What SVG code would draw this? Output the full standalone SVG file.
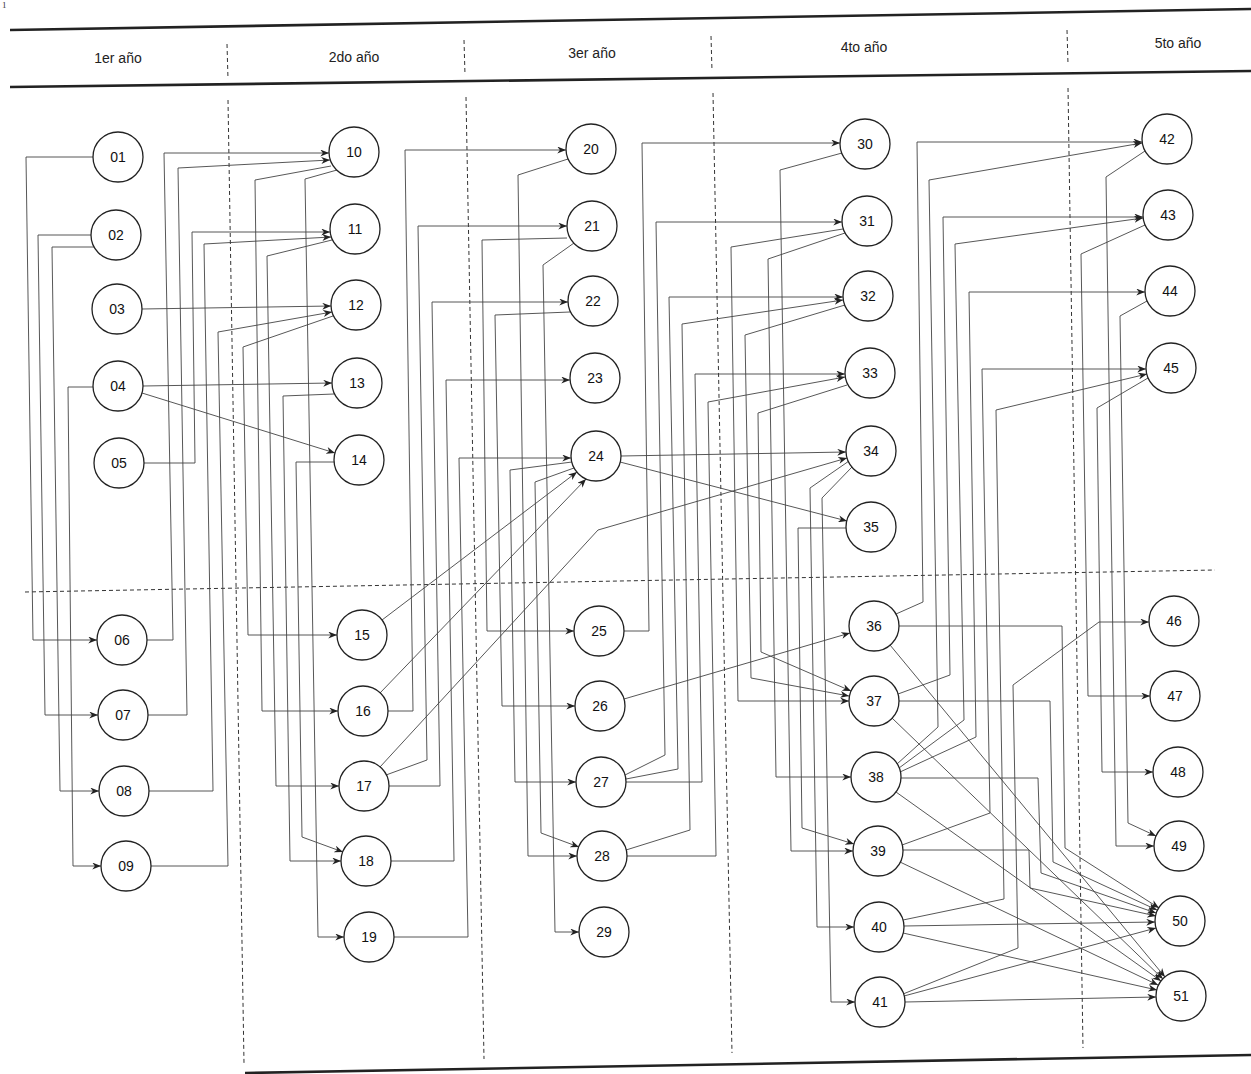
<svg xmlns="http://www.w3.org/2000/svg" width="1251" height="1074" viewBox="0 0 1251 1074">
<style>
.bg{fill:#fff}
.hl{stroke:#222;stroke-width:2.6;fill:none}
.dv{stroke:#333;stroke-width:1;stroke-dasharray:4 3;fill:none}
.hd{font-family:"Liberation Sans",Arial,sans-serif;font-size:14px;fill:#222;text-anchor:middle}
.c{stroke:#444;stroke-width:0.9;fill:none;marker-end:url(#a)}
.n circle{fill:#fff;stroke:#222;stroke-width:1.3}
.n text{font-family:"Liberation Sans",Arial,sans-serif;font-size:14px;fill:#111;text-anchor:middle;dominant-baseline:central}
</style>
<defs>
<marker id="a" viewBox="0 0 10 8" refX="10" refY="4" markerWidth="9" markerHeight="7" orient="auto" markerUnits="userSpaceOnUse"><path d="M0,0 L10,4 L0,8 L3,4 z" fill="#222"/></marker>
</defs>
<rect class="bg" x="0" y="0" width="1251" height="1074"/>
<text x="2" y="8" font-family="Liberation Serif,serif" font-size="9" fill="#333">1</text>
<g id="frame">
<line class="hl" x1="10" y1="30" x2="1251" y2="9"/>
<line class="hl" x1="10" y1="87" x2="1251" y2="71"/>
<line class="hl" x1="245" y1="1073" x2="1251" y2="1055" stroke-width="3"/>
<line class="dv" x1="227" y1="44" x2="228" y2="79"/>
<line class="dv" x1="228" y1="100" x2="244" y2="1063"/>
<line class="dv" x1="464" y1="40" x2="465" y2="75"/>
<line class="dv" x1="466" y1="97" x2="484" y2="1059"/>
<line class="dv" x1="711" y1="36" x2="712" y2="71"/>
<line class="dv" x1="713" y1="93" x2="732" y2="1053"/>
<line class="dv" x1="1067" y1="30" x2="1068" y2="64"/>
<line class="dv" x1="1068" y1="88" x2="1083" y2="1048"/>
<line class="dv" x1="25" y1="592" x2="1215" y2="570" stroke-dasharray="5 4"/>
<text class="hd" x="118" y="63">1er año</text>
<text class="hd" x="354" y="62">2do año</text>
<text class="hd" x="592" y="58">3er año</text>
<text class="hd" x="864" y="52">4to año</text>
<text class="hd" x="1178" y="48">5to año</text>
</g>
<g id="connectors">
<path class="c" d="M93,157 H26 L33,640 H97"/>
<path class="c" d="M91,235 H38 L45,715 H98"/>
<path class="c" d="M94,247 H52 L60,791 H99"/>
<path class="c" d="M93,387 H68 L73,866 H101"/>
<path class="c" d="M142,309 L331,306"/>
<path class="c" d="M143,386 L332,383"/>
<path class="c" d="M142,393 L335,453"/>
<path class="c" d="M144,463 H195 L192,232 H330"/>
<path class="c" d="M147,640 H173 L164,153 H329"/>
<path class="c" d="M148,715 H187 L178,168 L330,160"/>
<path class="c" d="M149,791 H213 L204,244 L331,237"/>
<path class="c" d="M151,866 H228 L218,332 L332,312"/>
<path class="c" d="M333,316 L243,347 L248,635 H337"/>
<path class="c" d="M331,166 L255,180 L262,711 H338"/>
<path class="c" d="M332,240 L267,256 L276,786 H339"/>
<path class="c" d="M334,394 L283,396 L290,861 H341"/>
<path class="c" d="M335,462 L296,462 L302,837 L343,852"/>
<path class="c" d="M337,170 L305,179 L318,937 H344"/>
<path class="c" d="M388,711 H413 L405,150 H566"/>
<path class="c" d="M386,775 L427,760 L418,226 H567"/>
<path class="c" d="M389,786 H440 L432,302 H568"/>
<path class="c" d="M391,861 H454 L446,380 H570"/>
<path class="c" d="M394,937 H468 L459,458 H571"/>
<path class="c" d="M382,620 L577,472"/>
<path class="c" d="M380,693 L586,479"/>
<path class="c" d="M380,767 L598,530 L847,458"/>
<path class="c" d="M567,238 L482,240 L487,631 H574"/>
<path class="c" d="M570,312 L495,315 L502,706 H575"/>
<path class="c" d="M572,462 L510,470 L515,782 H576"/>
<path class="c" d="M568,159 L518,175 L528,856 H577"/>
<path class="c" d="M574,468 L535,482 L541,833 L579,847"/>
<path class="c" d="M574,243 L543,265 L555,932 H579"/>
<path class="c" d="M624,631 H649 L642,143 H840"/>
<path class="c" d="M625,775 L665,755 L656,222 H842"/>
<path class="c" d="M626,779 L678,769 L669,297 H843"/>
<path class="c" d="M626,850 L690,830 L682,324 L843,300"/>
<path class="c" d="M626,782 H702 L695,374 H845"/>
<path class="c" d="M627,856 H716 L708,402 L845,377"/>
<path class="c" d="M621,456 L846,452"/>
<path class="c" d="M620,462 L847,521"/>
<path class="c" d="M624,699 L850,633"/>
<path class="c" d="M843,229 L731,247 L738,701 H849"/>
<path class="c" d="M845,305 L745,335 L751,678 L849,696"/>
<path class="c" d="M847,385 L758,413 L761,652 L851,691"/>
<path class="c" d="M845,233 L768,259 L776,777 H851"/>
<path class="c" d="M842,153 L780,170 L791,851 H853"/>
<path class="c" d="M846,528 H798 L802,828 L854,844"/>
<path class="c" d="M849,461 L810,488 L817,927 H854"/>
<path class="c" d="M852,467 L822,498 L831,1002 H855"/>
<path class="c" d="M896,614 L923,602 L917,142 H1142"/>
<path class="c" d="M897,764 L938,727 L929,180 L1142,143"/>
<path class="c" d="M898,694 L950,675 L943,217 H1143"/>
<path class="c" d="M899,768 L964,720 L955,244 L1143,218"/>
<path class="c" d="M900,772 L976,737 L969,292 H1145"/>
<path class="c" d="M902,845 L990,813 L982,369 H1146"/>
<path class="c" d="M903,920 L1004,899 L996,410 L1147,374"/>
<path class="c" d="M903,994 L1018,948 L1013,685 L1099,622 H1149"/>
<path class="c" d="M1145,225 L1081,254 L1088,696 H1150"/>
<path class="c" d="M1148,378 L1097,408 L1102,772 H1153"/>
<path class="c" d="M1145,151 L1106,177 L1116,846 H1154"/>
<path class="c" d="M1147,301 L1120,316 L1128,823 L1156,836"/>
<path class="c" d="M899,626 H1062 L1065,848 L1159,908"/>
<path class="c" d="M890,645 L1165,977"/>
<path class="c" d="M899,701 H1050 L1053,862 L1157,910"/>
<path class="c" d="M892,718 L1163,979"/>
<path class="c" d="M901,778 H1038 L1041,873 L1156,913"/>
<path class="c" d="M896,792 L1161,981"/>
<path class="c" d="M903,850 H1029 L1030,888 L1156,916"/>
<path class="c" d="M900,862 L1158,985"/>
<path class="c" d="M904,926 L1155,922"/>
<path class="c" d="M903,933 L1157,990"/>
<path class="c" d="M904,996 L1156,928"/>
<path class="c" d="M905,1002 L1156,997"/>
</g>
<g id="n01" class="n"><circle cx="118" cy="157" r="25"/><text x="118" y="157">01</text></g>
<g id="n02" class="n"><circle cx="116" cy="235" r="25"/><text x="116" y="235">02</text></g>
<g id="n03" class="n"><circle cx="117" cy="309" r="25"/><text x="117" y="309">03</text></g>
<g id="n04" class="n"><circle cx="118" cy="386" r="25"/><text x="118" y="386">04</text></g>
<g id="n05" class="n"><circle cx="119" cy="463" r="25"/><text x="119" y="463">05</text></g>
<g id="n06" class="n"><circle cx="122" cy="640" r="25"/><text x="122" y="640">06</text></g>
<g id="n07" class="n"><circle cx="123" cy="715" r="25"/><text x="123" y="715">07</text></g>
<g id="n08" class="n"><circle cx="124" cy="791" r="25"/><text x="124" y="791">08</text></g>
<g id="n09" class="n"><circle cx="126" cy="866" r="25"/><text x="126" y="866">09</text></g>
<g id="n10" class="n"><circle cx="354" cy="152" r="25"/><text x="354" y="152">10</text></g>
<g id="n11" class="n"><circle cx="355" cy="229" r="25"/><text x="355" y="229">11</text></g>
<g id="n12" class="n"><circle cx="356" cy="305" r="25"/><text x="356" y="305">12</text></g>
<g id="n13" class="n"><circle cx="357" cy="383" r="25"/><text x="357" y="383">13</text></g>
<g id="n14" class="n"><circle cx="359" cy="460" r="25"/><text x="359" y="460">14</text></g>
<g id="n15" class="n"><circle cx="362" cy="635" r="25"/><text x="362" y="635">15</text></g>
<g id="n16" class="n"><circle cx="363" cy="711" r="25"/><text x="363" y="711">16</text></g>
<g id="n17" class="n"><circle cx="364" cy="786" r="25"/><text x="364" y="786">17</text></g>
<g id="n18" class="n"><circle cx="366" cy="861" r="25"/><text x="366" y="861">18</text></g>
<g id="n19" class="n"><circle cx="369" cy="937" r="25"/><text x="369" y="937">19</text></g>
<g id="n20" class="n"><circle cx="591" cy="149" r="25"/><text x="591" y="149">20</text></g>
<g id="n21" class="n"><circle cx="592" cy="226" r="25"/><text x="592" y="226">21</text></g>
<g id="n22" class="n"><circle cx="593" cy="301" r="25"/><text x="593" y="301">22</text></g>
<g id="n23" class="n"><circle cx="595" cy="378" r="25"/><text x="595" y="378">23</text></g>
<g id="n24" class="n"><circle cx="596" cy="456" r="25"/><text x="596" y="456">24</text></g>
<g id="n25" class="n"><circle cx="599" cy="631" r="25"/><text x="599" y="631">25</text></g>
<g id="n26" class="n"><circle cx="600" cy="706" r="25"/><text x="600" y="706">26</text></g>
<g id="n27" class="n"><circle cx="601" cy="782" r="25"/><text x="601" y="782">27</text></g>
<g id="n28" class="n"><circle cx="602" cy="856" r="25"/><text x="602" y="856">28</text></g>
<g id="n29" class="n"><circle cx="604" cy="932" r="25"/><text x="604" y="932">29</text></g>
<g id="n30" class="n"><circle cx="865" cy="144" r="25"/><text x="865" y="144">30</text></g>
<g id="n31" class="n"><circle cx="867" cy="221" r="25"/><text x="867" y="221">31</text></g>
<g id="n32" class="n"><circle cx="868" cy="296" r="25"/><text x="868" y="296">32</text></g>
<g id="n33" class="n"><circle cx="870" cy="373" r="25"/><text x="870" y="373">33</text></g>
<g id="n34" class="n"><circle cx="871" cy="451" r="25"/><text x="871" y="451">34</text></g>
<g id="n35" class="n"><circle cx="871" cy="527" r="25"/><text x="871" y="527">35</text></g>
<g id="n36" class="n"><circle cx="874" cy="626" r="25"/><text x="874" y="626">36</text></g>
<g id="n37" class="n"><circle cx="874" cy="701" r="25"/><text x="874" y="701">37</text></g>
<g id="n38" class="n"><circle cx="876" cy="777" r="25"/><text x="876" y="777">38</text></g>
<g id="n39" class="n"><circle cx="878" cy="851" r="25"/><text x="878" y="851">39</text></g>
<g id="n40" class="n"><circle cx="879" cy="927" r="25"/><text x="879" y="927">40</text></g>
<g id="n41" class="n"><circle cx="880" cy="1002" r="25"/><text x="880" y="1002">41</text></g>
<g id="n42" class="n"><circle cx="1167" cy="139" r="25"/><text x="1167" y="139">42</text></g>
<g id="n43" class="n"><circle cx="1168" cy="215" r="25"/><text x="1168" y="215">43</text></g>
<g id="n44" class="n"><circle cx="1170" cy="291" r="25"/><text x="1170" y="291">44</text></g>
<g id="n45" class="n"><circle cx="1171" cy="368" r="25"/><text x="1171" y="368">45</text></g>
<g id="n46" class="n"><circle cx="1174" cy="621" r="25"/><text x="1174" y="621">46</text></g>
<g id="n47" class="n"><circle cx="1175" cy="696" r="25"/><text x="1175" y="696">47</text></g>
<g id="n48" class="n"><circle cx="1178" cy="772" r="25"/><text x="1178" y="772">48</text></g>
<g id="n49" class="n"><circle cx="1179" cy="846" r="25"/><text x="1179" y="846">49</text></g>
<g id="n50" class="n"><circle cx="1180" cy="921" r="25"/><text x="1180" y="921">50</text></g>
<g id="n51" class="n"><circle cx="1181" cy="996" r="25"/><text x="1181" y="996">51</text></g>
</svg>
